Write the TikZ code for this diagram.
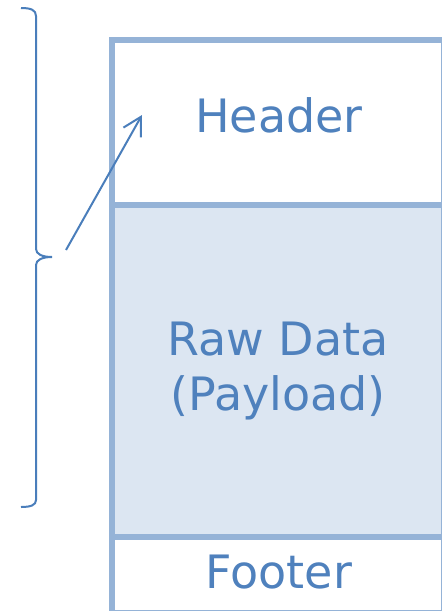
\documentclass[tikz,border=0pt]{standalone}
\usepackage{fontspec}
\setmainfont{DejaVu Sans}
\usetikzlibrary{arrows.meta}
\definecolor{cellline}{HTML}{95B3D7}
\definecolor{cellfill}{HTML}{DCE6F2}
\definecolor{txtblue}{HTML}{4F81BD}
\definecolor{bracecol}{HTML}{4A7EBB}
\tikzset{
  cell/.style={draw=cellline, line width=5.5pt, anchor=north west, inner sep=0pt, outer sep=0pt, minimum width=332pt},
  lbl/.style={text=txtblue, anchor=base, inner sep=0pt, font=\fontsize{46}{55}\selectfont},
  bracepath/.style={draw=bracecol, line width=2pt},
  pointer/.style={draw=bracecol, line width=2pt, -{Straight Barb[length=18pt,width=20pt]}}
}
\begin{document}
\begin{tikzpicture}[x=1pt,y=-1pt]
\useasboundingbox (0,0) rectangle (442,611);
\node[cell, fill=white, minimum height=165pt] (header) at (112,40) {};
\node[cell, fill=cellfill, minimum height=332pt] (raw) at (112,205) {};
\node[cell, fill=white, minimum height=76pt] (footer) at (112,537) {};
\node[lbl] (theader) at (279,132) {Header};
\node[lbl] (traw) at (278,355) {Raw Data};
\node[lbl] (tpay) at (278,410) {(Payload)};
\node[lbl] (tfoot) at (279,588) {Footer};
\path[bracepath] (21,8) .. controls (31,8) and (36,10) .. (36,16) -- (36,249)
  .. controls (36,254) and (42,257) .. (52,257)
  .. controls (42,257) and (36,260) .. (36,265) -- (36,500)
  .. controls (36,505) and (31,507) .. (21,507);
\coordinate (a0) at (66,250);
\coordinate (a1) at (142,115);
\draw[pointer] (a0) -- (a1);
\end{tikzpicture}
\end{document}
